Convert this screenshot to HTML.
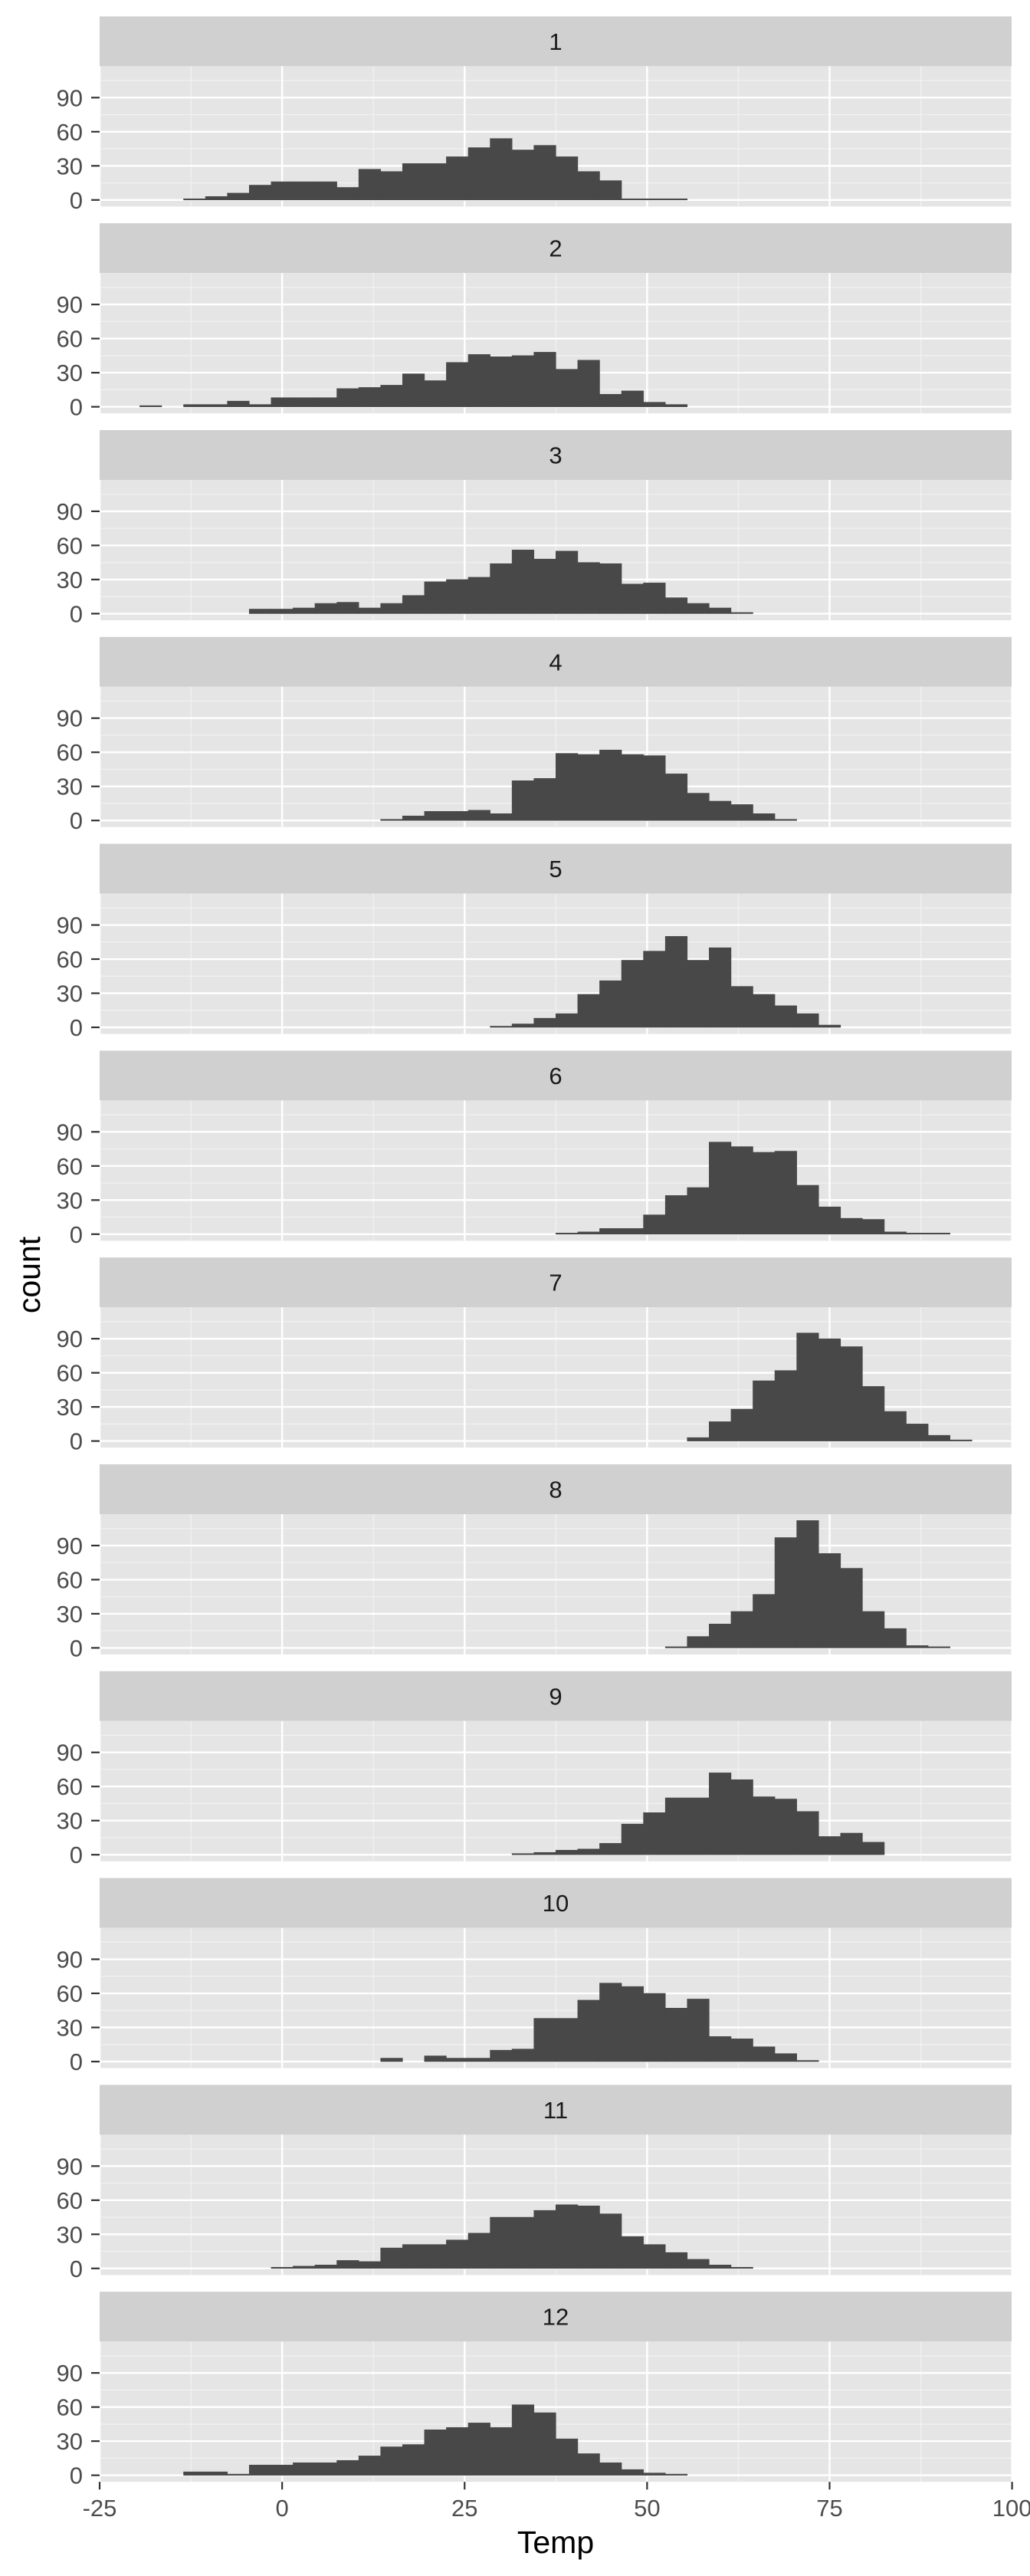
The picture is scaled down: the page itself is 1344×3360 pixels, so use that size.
<!DOCTYPE html>
<html><head><meta charset="utf-8"><style>
html,body{margin:0;padding:0;background:#fff;}
svg{display:block;font-family:"Liberation Sans",Arial,sans-serif;}
</style></head>
<body>
<svg id="chart" width="1344" height="3360" viewBox="0 0 1344 3360" xmlns="http://www.w3.org/2000/svg"></svg>
<script>
// Data: per-month histogram, bins of width 3 starting at given temperature
const months = ["1","2","3","4","5","6","7","8","9","10","11","12"];
const binStarts = [-13.5,-19.5,-4.5,13.5,28.5,37.5,55.5,52.5,31.5,13.5,-1.5,-13.5];
const counts1 = [1,3,6,13,16,16,16,11,27,25,32,32,38,46,54,44,48,38,25,17,1,1,1];
const counts2 = [1,0,2,2,5,2,8,8,8,16,17,19,29,23,39,46,44,45,48,33,41,11,14,4,2];
const counts3 = [4,4,5,9,10,5,9,16,28,30,32,44,56,48,55,45,44,26,27,14,9,5,1];
const counts4 = [1,4,8,8,9,6,35,37,59,58,62,58,57,41,24,17,14,6,1];
const counts5 = [1,3,8,12,29,41,59,67,80,59,70,36,29,19,12,2];
const counts6 = [1,2,5,5,17,34,41,81,77,72,73,43,24,14,13,2,1,1];
const counts7 = [3,17,28,53,62,95,90,83,48,26,15,5,1];
const counts8 = [1,10,21,32,47,97,112,83,70,32,17,2,1];
const counts9 = [1,2,4,5,10,27,37,50,50,72,66,51,49,38,16,19,11];
const counts10 = [3,0,5,3,3,10,11,38,38,54,69,66,60,47,55,22,20,13,7,1];
const counts11 = [1,2,3,7,6,18,21,21,25,31,45,45,51,56,55,48,28,21,14,8,3,1];
const counts12 = [3,3,1,9,9,11,11,13,17,25,27,40,42,46,42,62,55,32,19,11,5,2,1];
const allCounts = [counts1,counts2,counts3,counts4,counts5,counts6,counts7,counts8,counts9,counts10,counts11,counts12];
const binWidth = 3;
const xTicks = [-25,0,25,50,75,100];
const xMinor = [-12.5,12.5,37.5,62.5,87.5];
const yTicks = [0,30,60,90];
const yMinor = [15,45,75,105];

const NS="http://www.w3.org/2000/svg";
const svg=document.getElementById('chart');
const PL=130, PR=1320, PITCH=269.8, STRIP_TOP=21.4, STRIP_H=65, PANEL_H=183, Y0_OFF=174.4, YU=1.483;
function xs(v){return PL+(v+25)*9.525;}
function mk(tag,attrs,parent){const e=document.createElementNS(NS,tag);for(const k in attrs)e.setAttribute(k,attrs[k]);(parent||svg).appendChild(e);return e;}

months.forEach((m,i)=>{
  const g=mk('g',{});
  
  
  const st=STRIP_TOP+i*PITCH, pt=st+STRIP_H, y0=pt+Y0_OFF;
  const ys=v=>y0-v*YU;
  const strip=mk('rect',{x:PL,y:st,width:PR-PL,height:STRIP_H,fill:'#D0D0D0'},g);
  
  
  const sl=mk('text',{x:(PL+PR)/2,y:st+STRIP_H/2+11,'text-anchor':'middle','font-size':31,fill:'#1A1A1A'},g);
  sl.textContent=m;
  
  
  const bg=mk('rect',{x:PL,y:pt,width:PR-PL,height:PANEL_H,fill:'#E5E5E5'},g);
  
  
  yMinor.forEach(v=>{const y=ys(v);if(y>pt)mk('line',{x1:PL,x2:PR,y1:y,y2:y,stroke:'#F2F2F2','stroke-width':1.2},g);});
  xMinor.forEach(v=>mk('line',{x1:xs(v),x2:xs(v),y1:pt,y2:pt+PANEL_H,stroke:'#F2F2F2','stroke-width':1.2},g));
  yTicks.forEach(v=>mk('line',{x1:PL,x2:PR,y1:ys(v),y2:ys(v),stroke:'#FFFFFF','stroke-width':2.4},g));
  xTicks.forEach(v=>mk('line',{x1:xs(v),x2:xs(v),y1:pt,y2:pt+PANEL_H,stroke:'#FFFFFF','stroke-width':2.4},g));
  const c=allCounts[i];
  c.forEach((n,k)=>{
    if(n<=0)return;
    const x0=binStarts[i]+k*binWidth;
    const b=mk('rect',{x:xs(x0),y:ys(n),width:xs(x0+binWidth)-xs(x0),height:n*YU,fill:'#484848',stroke:'#484848','stroke-width':0.6},g);
    
    
  });
  yTicks.forEach(v=>{
    mk('line',{x1:119,x2:PL,y1:ys(v),y2:ys(v),stroke:'#333','stroke-width':2.2},g);
    const t=mk('text',{x:108,y:ys(v)+11,'text-anchor':'end','font-size':31,fill:'#4D4D4D'},g);
    t.textContent=String(v);
    
    
  });
  if(i===months.length-1){
    xTicks.forEach(v=>{
      mk('line',{x1:xs(v),x2:xs(v),y1:pt+PANEL_H,y2:pt+PANEL_H+10,stroke:'#333','stroke-width':2.2},g);
      const t=mk('text',{x:xs(v),y:3282,'text-anchor':'middle','font-size':31,fill:'#4D4D4D'},g);
      t.textContent=String(v);
      
      
    });
  }
});
const xt=mk('text',{x:725,y:3330,'text-anchor':'middle','font-size':41,fill:'#000'});
xt.textContent='Temp';


const yt=mk('text',{x:0,y:0,'text-anchor':'middle','font-size':41,fill:'#000',transform:'translate(52,1663) rotate(-90)'});
yt.textContent='count';


</script>
</body></html>
